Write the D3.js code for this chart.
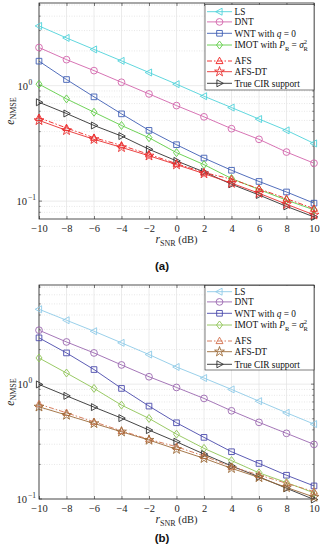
<!DOCTYPE html>
<html><head><meta charset="utf-8">
<script src="https://cdn.jsdelivr.net/npm/d3@7"></script>
<style>body{margin:0;background:#fff}svg{display:block}</style>
</head><body>
<svg id="c" width="324" height="550"></svg>
<script>
// ---------- data ----------
const snr = [-10,-8,-6,-4,-2,0,2,4,6,8,10];
const xTicks = [-10,-8,-6,-4,-2,0,2,4,6,8,10];
const seriesKeys = ["LS","DNT","WNT","IMOT","AFS","AFSDT","TRUE"];
// panel (a)
const aLS    = [3.29,2.59,2.06,1.64,1.30,1.03,0.81,0.646,0.514,0.41,0.316];
const aDNT   = [2.14,1.68,1.35,1.07,0.848,0.672,0.537,0.424,0.343,0.266,0.213];
const aWNT   = [1.63,1.13,0.80,0.570,0.41,0.308,0.236,0.185,0.148,0.120,0.096];
const aIMOT  = [1.03,0.768,0.589,0.452,0.354,0.263,0.207,0.157,0.126,0.102,0.084];
const aAFS   = [0.527,0.430,0.354,0.304,0.254,0.211,0.177,0.155,0.128,0.105,0.086];
const aAFSDT = [0.50,0.41,0.343,0.292,0.247,0.207,0.173,0.143,0.117,0.094,0.076];
const aTRUE  = [0.718,0.574,0.452,0.366,0.281,0.223,0.179,0.140,0.113,0.090,0.073];
// panel (b)
const bLS    = [4.49,3.60,2.89,2.29,1.81,1.41,1.13,0.90,0.711,0.563,0.449];
const bDNT   = [2.95,2.33,1.87,1.47,1.16,0.936,0.751,0.586,0.465,0.373,0.299];
const bWNT   = [2.53,1.87,1.34,0.918,0.644,0.461,0.344,0.258,0.204,0.161,0.130];
const bIMOT  = [1.69,1.25,0.918,0.657,0.503,0.367,0.276,0.216,0.169,0.139,0.113];
const bAFS   = [0.670,0.563,0.470,0.392,0.331,0.285,0.237,0.191,0.162,0.137,0.116];
const bAFSDT = [0.635,0.538,0.455,0.385,0.326,0.271,0.226,0.185,0.154,0.126,0.104];
const bTRUE  = [0.994,0.791,0.631,0.506,0.398,0.315,0.246,0.194,0.156,0.124,0.099];
const yDomainA = [0.07, 5.2];
const yDomainB = [0.1, 7.3];

// ---------- styles ----------
const colorsA = {LS:"#4fd2da",DNT:"#d264ac",WNT:"#3f5fb4",IMOT:"#5fcd45",AFS:"#f02020",AFSDT:"#e83030",TRUE:"#303030"};
const colorsB = {LS:"#8fcbe8",DNT:"#9b68b0",WNT:"#4a4aac",IMOT:"#8fc455",AFS:"#d2704e",AFSDT:"#9c6a38",TRUE:"#303030"};
const markers = {LS:"triL",DNT:"circle",WNT:"square",IMOT:"diamond",AFS:"triU",AFSDT:"star",TRUE:"triR"};
const dashes = {AFS:"5,2,1.5,2"};

const svg = d3.select("#c");
const SERIF = "'Liberation Serif','Times New Roman',serif";
const AX = "#262626";

function markerPath(type){
  switch(type){
    case "circle": return d3.symbol(d3.symbolCircle, 36)();
    case "square": return d3.symbol(d3.symbolSquare, 32)();
    case "diamond": return "M0,-4L3,0L0,4L-3,0Z";
    case "triU": return "M0,-3.8L3.5,2.6L-3.5,2.6Z";
    case "triL": return "M-3.8,0L2.6,-3.5L2.6,3.5Z";
    case "triR": return "M3.8,0L-2.6,-3.5L-2.6,3.5Z";
    case "star": return d3.symbol(d3.symbolStar, 30)();
  }
}

function drawPanel(opt){
  const {data, colors, yDomain, top, bottom, caption, capY, legTop, legBottom} = opt;
  const x = d3.scaleLinear().domain([-10,10]).range([39,314]);
  const y = d3.scaleLog().domain(yDomain).range([bottom, top]);
  const g = svg.append("g");

  // grid
  const minors = [];
  [0.01,0.1,1].forEach(d=>{for(let k=2;k<=9;k++){const v=d*k; if(v>yDomain[0]&&v<yDomain[1]) minors.push(v);}});
  g.selectAll(".mg").data(minors).join("line")
    .attr("x1",x(-10)).attr("x2",x(10)).attr("y1",d=>y(d)).attr("y2",d=>y(d))
    .attr("stroke","#d6d6d6").attr("stroke-width",0.6).attr("stroke-dasharray","1,1.5");
  const majors = [0.1,1].filter(v=>v>=yDomain[0]-1e-9&&v<=yDomain[1]);
  g.selectAll(".Mg").data(majors).join("line")
    .attr("x1",x(-10)).attr("x2",x(10)).attr("y1",d=>y(d)).attr("y2",d=>y(d))
    .attr("stroke","#e2e2e2").attr("stroke-width",0.7);
  g.selectAll(".vg").data(xTicks).join("line")
    .attr("x1",d=>x(d)).attr("x2",d=>x(d)).attr("y1",top).attr("y2",bottom)
    .attr("stroke","#e2e2e2").attr("stroke-width",0.7);

  // box
  g.append("rect").attr("x",x(-10)).attr("y",top).attr("width",x(10)-x(-10)).attr("height",bottom-top)
    .attr("fill","none").attr("stroke",AX).attr("stroke-width",0.8);

  // x axis
  const xa = g.append("g").attr("transform",`translate(0,${bottom})`)
    .call(d3.axisBottom(x).tickValues(xTicks).tickSize(-3).tickPadding(6).tickFormat(d3.format("d")));
  xa.select(".domain").remove();
  xa.selectAll("line").attr("stroke",AX).attr("stroke-width",0.6);
  xa.selectAll("text").attr("font-family",SERIF).attr("font-size",10.5).attr("fill",AX);
  const xt = g.append("g").attr("transform",`translate(0,${top})`)
    .call(d3.axisTop(x).tickValues(xTicks).tickSize(-3).tickFormat(""));
  xt.select(".domain").remove();
  xt.selectAll("line").attr("stroke",AX).attr("stroke-width",0.6);

  // y ticks (major + minor, inward, both sides)
  [[x(-10),1],[x(10),-1]].forEach(([x0,s])=>{
    g.selectAll(null).data(majors).join("line").attr("x1",x0).attr("x2",x0+s*3)
      .attr("y1",d=>y(d)).attr("y2",d=>y(d)).attr("stroke",AX).attr("stroke-width",0.6);
    g.selectAll(null).data(minors).join("line").attr("x1",x0).attr("x2",x0+s*1.8)
      .attr("y1",d=>y(d)).attr("y2",d=>y(d)).attr("stroke",AX).attr("stroke-width",0.5);
  });
  // y tick labels
  majors.forEach(v=>{
    const e = Math.round(Math.log10(v));
    g.append("text").attr("x",e<0?27:28).attr("y",y(v)+4).attr("text-anchor","end")
      .attr("font-family",SERIF).attr("font-size",10.5).attr("fill",AX).text("10");
    g.append("text").attr("x",e<0?28:28.5).attr("y",y(v)-1).attr("font-family",SERIF).attr("font-size",7.5).attr("fill",AX)
      .text(e<0?"\u2212"+(-e):String(e));
  });

  // y label
  const yl = g.append("text").attr("transform",`translate(13.5,${(top+bottom)/2}) rotate(-90)`)
    .attr("text-anchor","middle").attr("font-family",SERIF).attr("font-size",11.5).attr("fill",AX);
  yl.append("tspan").attr("font-style","italic").text("e");
  yl.append("tspan").attr("font-size",8).attr("dy",2.5).text("NMSE");

  // x label
  const xl = g.append("text").attr("x",176.5).attr("y",bottom+23.5).attr("text-anchor","middle")
    .attr("font-family",SERIF).attr("font-size",10.5).attr("fill",AX);
  xl.append("tspan").attr("font-style","italic").attr("font-size",11.5).text("r");
  xl.append("tspan").attr("font-size",8).attr("dy",3).text("SNR");
  xl.append("tspan").attr("dy",-3).text(" (dB)");

  // caption
  g.append("text").attr("x",162).attr("y",capY).attr("text-anchor","middle")
    .attr("font-family","'Liberation Sans',Arial,sans-serif").attr("font-weight","bold").attr("font-size",11.5)
    .attr("fill","#111").text(caption);

  // series
  const line = d3.line().x((d,i)=>x(snr[i])).y(d=>y(d));
  const order = ["LS","DNT","WNT","IMOT","TRUE","AFS","AFSDT"];
  order.forEach(k=>{
    const vals = data[k];
    g.append("path").datum(vals).attr("d",line).attr("fill","none")
      .attr("stroke",colors[k]).attr("stroke-width",0.9)
      .attr("stroke-dasharray",dashes[k]||null);
    g.selectAll(null).data(vals).join("path")
      .attr("transform",(d,i)=>`translate(${x(snr[i])},${y(d)})`)
      .attr("d",markerPath(markers[k])).attr("fill","none").attr("stroke",colors[k]).attr("stroke-width",0.9);
  });

  // legend
  const lx0=205, lx1=314;
  g.append("rect").attr("x",lx0).attr("y",legTop).attr("width",lx1-lx0).attr("height",legBottom-legTop)
    .attr("fill","#fff").attr("stroke",AX).attr("stroke-width",0.6);
  const rowY = opt.legRows;
  seriesKeys.forEach((k,i)=>{
    const yy = rowY[i];
    g.append("line").attr("x1",207).attr("x2",232).attr("y1",yy).attr("y2",yy)
      .attr("stroke",colors[k]).attr("stroke-width",0.9).attr("stroke-dasharray",dashes[k]||null);
    g.append("path").attr("transform",`translate(219.5,${yy})`).attr("d",markerPath(markers[k]))
      .attr("fill","none").attr("stroke",colors[k]).attr("stroke-width",0.9);
    const t = g.append("text").attr("x",234.5).attr("y",yy+3.3).attr("font-family",SERIF)
      .attr("font-size",9.3).attr("fill","#111");
    if(k==="LS") t.text("LS");
    else if(k==="DNT") t.text("DNT");
    else if(k==="WNT"){ t.append("tspan").text("WNT with ");
      t.append("tspan").attr("font-style","italic").text("q");
      t.append("tspan").text(" = 0"); }
    else if(k==="IMOT"){ t.append("tspan").text("IMOT with ");
      t.append("tspan").attr("font-style","italic").text("P");
      t.append("tspan").attr("font-size",6.5).attr("dy",2.2).text("R");
      t.append("tspan").attr("dy",-2.2).text(" = ");
      t.append("tspan").attr("font-style","italic").text("\u03c3");
      t.append("tspan").attr("font-size",6.5).attr("dy",-4).text("2");
      t.append("tspan").attr("font-size",6.5).attr("dx",-3.6).attr("dy",7).text("R"); }
    else if(k==="AFS") t.text("AFS");
    else if(k==="AFSDT") t.text("AFS-DT");
    else t.text("True CIR support");
  });
}

drawPanel({
  data:{LS:aLS,DNT:aDNT,WNT:aWNT,IMOT:aIMOT,AFS:aAFS,AFSDT:aAFSDT,TRUE:aTRUE},
  colors:colorsA, yDomain:yDomainA, top:3, bottom:219, caption:"(a)", capY:270,
  legTop:4.5, legBottom:90, legRows:[11.7,21.9,33.3,45,61,71.7,83.3]
});
drawPanel({
  data:{LS:bLS,DNT:bDNT,WNT:bWNT,IMOT:bIMOT,AFS:bAFS,AFSDT:bAFSDT,TRUE:bTRUE},
  colors:colorsB, yDomain:yDomainB, top:285, bottom:499, caption:"(b)", capY:542,
  legTop:285.5, legBottom:370, legRows:[291.7,301.9,313.3,325,341,351.7,364.3]
});
</script>
</body></html>
